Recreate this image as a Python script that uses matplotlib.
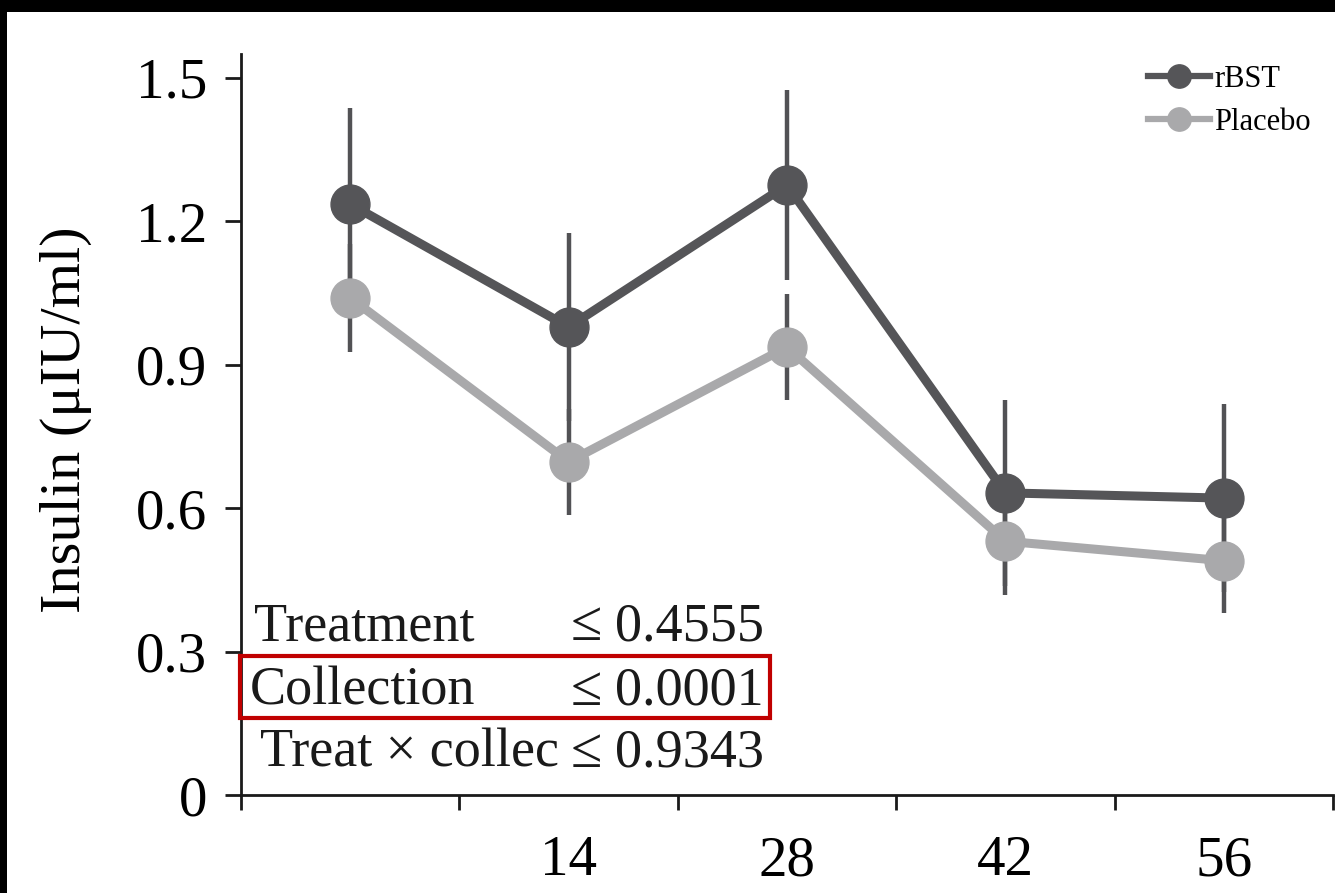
import numpy as np
import matplotlib
matplotlib.use("Agg")
import matplotlib.pyplot as plt
from matplotlib.patches import Rectangle

plt.rcParams['font.family'] = ['Liberation Serif', 'DejaVu Serif']

# ---- data ----
days = ['', '14', '28', '42', '56']
rbst = [1.236, 0.979, 1.276, 0.632, 0.621]
rbst_err = [0.200, 0.197, 0.199, 0.194, 0.197]
placebo = [1.040, 0.697, 0.937, 0.531, 0.490]
placebo_err = [0.113, 0.111, 0.111, 0.113, 0.109]
yticks = [0, 0.3, 0.6, 0.9, 1.2, 1.5]
ytick_labels = ['0', '0.3', '0.6', '0.9', '1.2', '1.5']
stats_names = ['Treatment', 'Collection', 'Treat \u00d7 collec']
stats_values = ['0.4555', '0.0001', '0.9343']

c_dark = '#555558'
c_light = '#a9a9ab'
c_err = '#525255'

fig = plt.figure(figsize=(13.35, 8.93), dpi=100)
fig.patch.set_facecolor('black')
fig.add_artist(Rectangle((7/1335, 0), 1, (893-12)/893, transform=fig.transFigure,
                         facecolor='white', edgecolor='none', zorder=-10))

ax = fig.add_axes([241/1335, (893-795)/893, (1333-241)/1335, (795-54)/893])
ax.set_facecolor('none')

x = np.arange(len(days)) + 0.5

ax.errorbar(x, rbst, yerr=rbst_err, fmt='none', ecolor=c_err, elinewidth=3.2, capsize=0, zorder=2)
ax.errorbar(x, placebo, yerr=placebo_err, fmt='none', ecolor=c_err, elinewidth=3.2, capsize=0, zorder=2)
ax.plot(x, rbst, '-o', color=c_dark, lw=6.5, markersize=28, label='rBST', zorder=4)
ax.plot(x, placebo, '-o', color=c_light, lw=6.5, markersize=28, label='Placebo', zorder=3)

ax.set_xlim(0, len(days))
ax.set_ylim(0, 1.55)

for s in ['top', 'right']:
    ax.spines[s].set_visible(False)
for s in ['left', 'bottom']:
    ax.spines[s].set_linewidth(2)
    ax.spines[s].set_color('#1a1a1a')

ax.set_yticks(yticks)
ax.set_yticklabels(ytick_labels)
ax.tick_params(axis='y', direction='out', length=11.5, width=2, pad=13, labelsize=41, color='#1a1a1a')

ax.set_xticks(np.arange(len(days) + 1))
ax.set_xticklabels([])
ax.set_xticks(x, minor=True)
ax.set_xticklabels(days, minor=True)
ax.tick_params(axis='x', which='major', direction='out', length=11, width=2, color='#1a1a1a')
ax.tick_params(axis='x', which='minor', length=0, pad=29, labelsize=41)

ax.set_ylabel('Insulin (\u03bcIU/ml)', fontsize=42)
ax.yaxis.set_label_coords(-0.136, 0.506)

# stats table
name_x = [0.0119, 0.0082, 0.0174]
base_y = [0.209, 0.1215, 0.0378]
for nm, val, nx, by in zip(stats_names, stats_values, name_x, base_y):
    ax.text(nx, by, nm, transform=ax.transAxes, fontsize=39, ha='left', va='baseline', color='#1a1a1a')
    ax.text(0.302, by, '\u2264', transform=ax.transAxes, fontsize=41, ha='left', va='baseline', color='#1a1a1a')
    ax.text(0.3425, by, val, transform=ax.transAxes, fontsize=39, ha='left', va='baseline', color='#1a1a1a')

ax.add_patch(Rectangle((-0.001, 0.104), 0.485, 0.0836, transform=ax.transAxes, fill=False,
                       edgecolor='#c00000', lw=3, clip_on=False, zorder=6))

leg = ax.legend(loc='upper left', bbox_to_anchor=(0.831, 0.985), frameon=False, fontsize=22,
                handlelength=2.0, handletextpad=0.15, labelspacing=0.45, markerscale=0.6,
                borderaxespad=0, borderpad=0)
for h in leg.get_lines():
    h.set_linewidth(4.5)

fig.savefig('out.png', dpi=100, facecolor=fig.get_facecolor())
